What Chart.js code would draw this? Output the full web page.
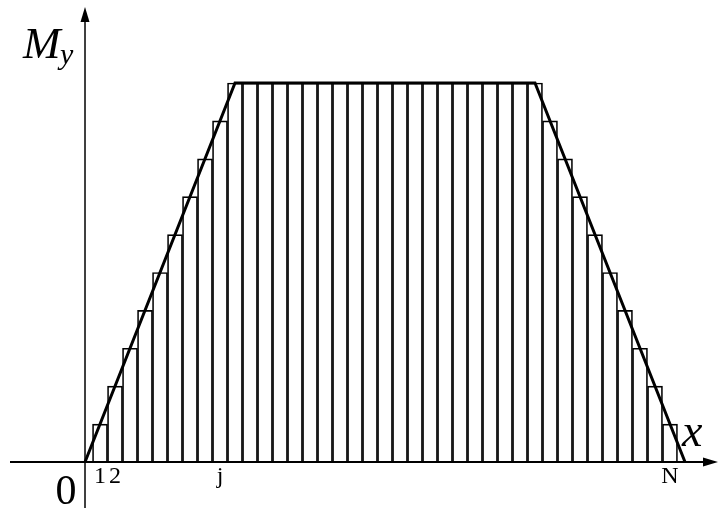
<!DOCTYPE html>
<html>
<head>
<meta charset="utf-8">
<script src="https://cdn.jsdelivr.net/npm/chart.js@4.4.1/dist/chart.umd.min.js"></script>
<style>
  html, body { margin: 0; padding: 0; background: #fff; }
  #diagram { display: block; }
</style>
</head>
<body>
<canvas id="diagram" width="720" height="508"></canvas>
<script>
'use strict';

// ── Strip numbers j = 1..N and the height of each step (moment at strip centre) ──
const strips = [1, 2, 3, 4, 5, 6, 7, 8, 9, 10, 11, 12, 13, 14, 15, 16, 17, 18, 19, 20,
                21, 22, 23, 24, 25, 26, 27, 28, 29, 30, 31, 32, 33, 34, 35, 36, 37, 38, 39];
const stripHeights = [1, 2, 3, 4, 5, 6, 7, 8, 9, 10, 10, 10, 10, 10, 10, 10, 10, 10, 10, 10,
                      10, 10, 10, 10, 10, 10, 10, 10, 10, 10, 9, 8, 7, 6, 5, 4, 3, 2, 1];

// ── Trapezoidal moment diagram M_y(x) ──
const momentX = [0, 10, 30, 40];
const momentY = [0, 10, 10, 0];

// ── Labels under the x axis ──
const tickAt   = [1, 2, 9, 39];
const tickText = ['1', '2', 'j', 'N'];

// visible window in data units (axes are drawn by hand, so the plot fills the canvas)
const xRange = [-5.667, 42.333];
const yRange = [-1.214, 12.19];

const SERIF = '"Liberation Serif", "DejaVu Serif", serif';

function arrowHead(ctx, tipX, tipY, dir) {
    // dir: 'right' or 'up'
    ctx.beginPath();
    if (dir === 'right') {
        ctx.moveTo(tipX, tipY);
        ctx.lineTo(tipX - 15, tipY - 4.5);
        ctx.lineTo(tipX - 15, tipY + 4.5);
    } else {
        ctx.moveTo(tipX, tipY);
        ctx.lineTo(tipX - 4.5, tipY + 15);
        ctx.lineTo(tipX + 4.5, tipY + 15);
    }
    ctx.closePath();
    ctx.fill();
}

const axesPlugin = {
    id: 'handAxes',
    beforeDraw(chart) {
        const { ctx, width, height } = chart;
        ctx.save();
        ctx.fillStyle = '#fff';
        ctx.fillRect(0, 0, width, height);
        ctx.restore();
    },
    afterDatasetsDraw(chart) {
        const { ctx, width, height, scales: { x, y } } = chart;
        const ox = x.getPixelForValue(0);
        const oy = y.getPixelForValue(0);

        ctx.save();
        ctx.strokeStyle = '#000';
        ctx.fillStyle = '#000';

        // x axis
        ctx.lineWidth = 2;
        ctx.beginPath();
        ctx.moveTo(10, oy);
        ctx.lineTo(width - 12, oy);
        ctx.stroke();
        arrowHead(ctx, width - 2, oy, 'right');

        // y axis (runs on below the x axis)
        ctx.lineWidth = 1.5;
        ctx.beginPath();
        ctx.moveTo(ox, height);
        ctx.lineTo(ox, 20);
        ctx.stroke();
        arrowHead(ctx, ox, 7, 'up');

        // strip numbers
        ctx.font = '24px ' + SERIF;
        ctx.textAlign = 'center';
        ctx.textBaseline = 'alphabetic';
        tickAt.forEach((v, i) => ctx.fillText(tickText[i], x.getPixelForValue(v), oy + 21));

        // origin
        ctx.font = '42px ' + SERIF;
        ctx.fillText('0', ox - 19, oy + 42);

        // axis names
        ctx.textAlign = 'left';
        ctx.font = 'italic 45px ' + SERIF;
        ctx.fillText('M', ox - 62, 58);
        ctx.font = 'italic 30px ' + SERIF;
        ctx.fillText('y', ox - 25, 64);
        ctx.font = 'italic 46px ' + SERIF;
        ctx.fillText('x', width - 38, oy - 16);

        ctx.restore();
    }
};

new Chart(document.getElementById('diagram'), {
    type: 'bar',
    data: {
        datasets: [
            {
                type: 'line',
                label: 'M_y',
                data: momentX.map((v, i) => ({ x: v, y: momentY[i] })),
                borderColor: '#000',
                borderWidth: 3,
                pointRadius: 0,
                tension: 0,
                fill: false,
                order: 0
            },
            {
                type: 'bar',
                label: 'strips',
                data: strips.map((v, i) => ({ x: v, y: stripHeights[i] })),
                backgroundColor: 'rgba(0,0,0,0)',
                borderColor: '#000',
                borderWidth: 1,
                borderSkipped: 'start',
                barPercentage: 1,
                categoryPercentage: 1,
                order: 1
            }
        ]
    },
    options: {
        responsive: false,
        animation: false,
        devicePixelRatio: 1,
        layout: { padding: 0 },
        plugins: { legend: { display: false }, tooltip: { enabled: false } },
        scales: {
            x: { type: 'linear', display: false, offset: false, min: xRange[0], max: xRange[1] },
            y: { type: 'linear', display: false, min: yRange[0], max: yRange[1] }
        }
    },
    plugins: [axesPlugin]
});
</script>
</body>
</html>
